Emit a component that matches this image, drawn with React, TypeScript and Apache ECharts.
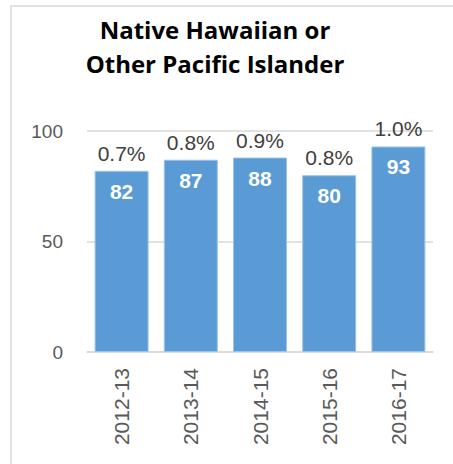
import React, { useEffect, useRef } from "react";
import * as echarts from "echarts";

const categories = ["2012-13", "2013-14", "2014-15", "2015-16", "2016-17"];
const counts = [82, 87, 88, 80, 93];
const percents = [0.7, 0.8, 0.9, 0.8, 1.0];
const yTicks = { min: 0, max: 100, interval: 50 };

export default function App() {
  const ref = useRef<HTMLDivElement>(null);
  useEffect(() => {
    document.body.style.margin = "0";
    const chart = echarts.init(ref.current!, null, { renderer: "svg" });
    chart.setOption({
      animation: false,
      backgroundColor: "#ffffff",
      graphic: [
        {
          type: "rect",
          shape: { x: 11, y: 6, width: 600, height: 600 },
          style: { fill: "none", stroke: "#d9d9d9", lineWidth: 1.5 },
          silent: true,
        },
        {
          type: "text",
          x: 215,
          y: 12,
          style: {
            text: "Native Hawaiian or\nOther Pacific Islander",
            fontFamily: "'Open Sans', Lato, sans-serif",
            fontWeight: "bold",
            fontSize: 24,
            lineHeight: 34,
            fill: "#000000",
            textAlign: "center",
          },
        },
      ],
      grid: { left: 87, right: 20, top: 131, bottom: 112, containLabel: false },
      xAxis: {
        type: "category",
        data: categories,
        axisLine: { lineStyle: { color: "#d9d9d9", width: 1.5 } },
        axisTick: { show: false },
        axisLabel: {
          rotate: 90,
          margin: 16,
          color: "#595959",
          fontSize: 21,
          fontFamily: "'Liberation Sans', Arial, sans-serif",
        },
      },
      yAxis: {
        type: "value",
        min: yTicks.min,
        max: yTicks.max,
        interval: yTicks.interval,
        axisLine: { show: false },
        axisTick: { show: false },
        splitLine: { lineStyle: { color: "#d9d9d9", width: 1.5 } },
        axisLabel: {
          margin: 24,
          color: "#595959",
          fontSize: 19,
          fontFamily: "'Liberation Sans', Arial, sans-serif",
        },
      },
      series: [
        {
          type: "bar",
          data: counts,
          barCategoryGap: "22%",
          itemStyle: { color: "#5B9BD5", borderColor: "#9dc3e6", borderWidth: 1 },
          label: {
            show: true,
            position: "insideTop",
            distance: 10,
            color: "#ffffff",
            fontWeight: "bold",
            fontSize: 21,
            fontFamily: "'Liberation Sans', Arial, sans-serif",
          },
        },
        {
          type: "bar",
          data: counts,
          barGap: "-100%",
          barCategoryGap: "22%",
          itemStyle: { color: "rgba(0,0,0,0)" },
          silent: true,
          label: {
            show: true,
            position: "top",
            distance: 7,
            color: "#404040",
            fontSize: 21,
            fontFamily: "'Liberation Sans', Arial, sans-serif",
            formatter: (p: any) => percents[p.dataIndex].toFixed(1) + "%",
          },
        },
      ],
    });
    return () => chart.dispose();
  }, []);
  return <div ref={ref} style={{ width: 453, height: 464 }} />;
}
